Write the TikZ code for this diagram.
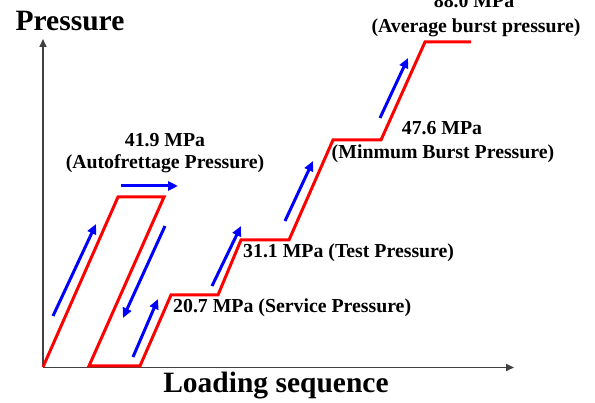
\documentclass[tikz,border=0pt]{standalone}
\usepackage{fontspec}
\setmainfont{Liberation Serif}
\usetikzlibrary{arrows.meta}
\begin{document}
\begin{tikzpicture}[x=1pt,y=-1pt,
  axisline/.style={line width=1.6pt, draw=black!75, -{Triangle[length=8pt,width=7pt]}},
  loadpath/.style={line width=3pt, draw=red, line join=miter},
  dirarrow/.style={line width=3pt, draw=blue, -{Triangle[length=10pt,width=9pt]}},
  lbl/.style={font=\bfseries\fontsize{19.8}{21}\selectfont, inner sep=0pt, anchor=base},
  axlbl/.style={font=\bfseries\fontsize{29.5}{32}\selectfont, inner sep=0pt, anchor=base}]
\useasboundingbox (0,0) rectangle (595,403);
% axes
\coordinate (O) at (43,367.5);
\coordinate (ytip) at (43,39);
\coordinate (xtip) at (514,367.5);
\draw[axisline] (O) -- (ytip);
\draw[axisline] (O) -- (xtip);
% load path
\coordinate (p0) at (43,367);
\coordinate (p1) at (118,197);
\coordinate (p2) at (164,197);
\coordinate (p3) at (89,366);
\coordinate (p4) at (140,366);
\coordinate (p5) at (171,295);
\coordinate (p6) at (218,295);
\coordinate (p7) at (241,240);
\coordinate (p8) at (289,240);
\coordinate (p9) at (333,140);
\coordinate (p10) at (381,140);
\coordinate (p11) at (425,42);
\coordinate (p12) at (471,42);
\draw[loadpath] (p0) -- (p1) -- (p2) -- (p3) -- (p4) -- (p5) -- (p6) -- (p7) -- (p8) -- (p9) -- (p10) -- (p11) -- (p12);
% direction arrows
\coordinate (a1s) at (53,316); \coordinate (a1e) at (96,224);
\coordinate (a2s) at (121,186); \coordinate (a2e) at (178,186);
\coordinate (a3s) at (165,226); \coordinate (a3e) at (123,318);
\coordinate (a4s) at (133,357); \coordinate (a4e) at (158,299);
\coordinate (a5s) at (212,286); \coordinate (a5e) at (241,226);
\coordinate (a6s) at (285,221); \coordinate (a6e) at (313,161);
\coordinate (a7s) at (380,118); \coordinate (a7e) at (408,58);
\draw[dirarrow] (a1s) -- (a1e);
\draw[dirarrow] (a2s) -- (a2e);
\draw[dirarrow] (a3s) -- (a3e);
\draw[dirarrow] (a4s) -- (a4e);
\draw[dirarrow] (a5s) -- (a5e);
\draw[dirarrow] (a6s) -- (a6e);
\draw[dirarrow] (a7s) -- (a7e);
% labels
\node[axlbl] (ylab) at (70,31) {Pressure};
\node[axlbl] (xlab) at (276,393) {Loading sequence};
\node[lbl] (l1a) at (165,147) {41.9 MPa};
\node[lbl] (l1b) at (165,169) {(Autofrettage Pressure)};
\node[lbl] (l2a) at (474,8) {88.0 MPa};
\node[lbl] (l2b) at (476,33) {(Average burst pressure)};
\node[lbl] (l3a) at (442,135) {47.6 MPa};
\node[lbl] (l3b) at (443,159) {(Minmum Burst Pressure)};
\node[lbl, anchor=base west] (l4) at (243,258) {31.1 MPa (Test Pressure)};
\node[lbl, anchor=base west] (l5) at (173,313) {20.7 MPa (Service Pressure)};
\end{tikzpicture}
\end{document}
